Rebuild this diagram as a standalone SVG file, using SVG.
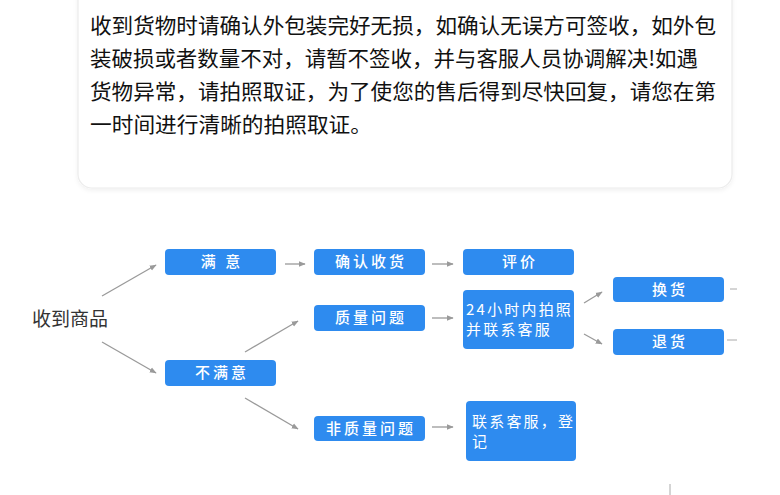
<svg xmlns="http://www.w3.org/2000/svg" width="780" height="495" viewBox="0 0 780 495">
<defs>
<style>
.card{fill:#fff;stroke:#ececec;stroke-width:1.2}
.para{font-family:"Noto Sans CJK SC","Noto Sans",sans-serif;font-size:21px;fill:#111}
.box{fill:#2e8bef}
.lbl{font-family:"Noto Sans CJK SC","Noto Sans",sans-serif;font-size:15px;fill:#fff;text-anchor:middle;letter-spacing:3px;font-weight:500}
.lbl2{font-family:"Noto Sans CJK SC","Noto Sans",sans-serif;font-size:15px;fill:#fff;letter-spacing:2.2px}
.root{font-family:"Noto Sans CJK SC","Noto Sans",sans-serif;font-size:19px;fill:#333}
.con{stroke:#9a9a9a;stroke-width:1.3;fill:none;marker-end:url(#ah)}
.stub{stroke:#aaa;stroke-width:1;fill:none}
</style>
<marker id="ah" viewBox="0 0 10 10" refX="9" refY="5" markerWidth="7" markerHeight="7" orient="auto" markerUnits="userSpaceOnUse">
<path d="M0,1 L10,5 L0,9 z" fill="#9a9a9a"/>
</marker>
<filter id="sh" x="-5%" y="-5%" width="110%" height="115%">
<feDropShadow dx="0" dy="2" stdDeviation="2" flood-color="#000" flood-opacity="0.06"/>
</filter>
</defs>
<rect width="780" height="495" fill="#fff"/>
<g id="notice">
<rect class="card" x="78" y="-20" width="654" height="208" rx="14" filter="url(#sh)"/>
<text class="para" x="90" y="33" textLength="626" lengthAdjust="spacingAndGlyphs">收到货物时请确认外包装完好无损，如确认无误方可签收，如外包</text>
<text class="para" x="90" y="66" textLength="608" lengthAdjust="spacingAndGlyphs">装破损或者数量不对，请暂不签收，并与客服人员协调解决!如遇</text>
<text class="para" x="90" y="99" textLength="626" lengthAdjust="spacingAndGlyphs">货物异常，请拍照取证，为了使您的售后得到尽快回复，请您在第</text>
<text class="para" x="90" y="132" textLength="282" lengthAdjust="spacingAndGlyphs">一时间进行清晰的拍照取证。</text>
</g>
<g id="connectors">
<line class="con" x1="102" y1="296" x2="156" y2="265"/>
<line class="con" x1="102" y1="342" x2="156" y2="373"/>
<line class="con" x1="285" y1="264" x2="305" y2="264"/>
<line class="con" x1="245" y1="352" x2="298" y2="321"/>
<line class="con" x1="245" y1="398" x2="298" y2="429"/>
<line class="con" x1="432" y1="264" x2="453" y2="264"/>
<line class="con" x1="432" y1="318" x2="453" y2="318"/>
<line class="con" x1="432" y1="427" x2="453" y2="427"/>
<line class="con" x1="584" y1="303" x2="602" y2="292"/>
<line class="con" x1="584" y1="334" x2="602" y2="344"/>
<line class="stub" x1="730" y1="289" x2="737" y2="289"/>
<line class="stub" x1="727" y1="340" x2="737" y2="340"/>
<line class="stub" x1="670" y1="484" x2="670" y2="495"/>
</g>
<g id="n-root"><text class="root" x="32" y="326">收到商品</text></g>
<g id="n-manyi"><rect class="box" x="165" y="249" width="111" height="26" rx="4"/><text class="lbl" x="222" y="267">满 意</text></g>
<g id="n-bumanyi"><rect class="box" x="165" y="360" width="111" height="26" rx="4"/><text class="lbl" x="222" y="378">不满意</text></g>
<g id="n-queren"><rect class="box" x="314" y="249" width="111" height="26" rx="4"/><text class="lbl" x="371" y="267">确认收货</text></g>
<g id="n-zhiliang"><rect class="box" x="314" y="305" width="111" height="26" rx="4"/><text class="lbl" x="371" y="323">质量问题</text></g>
<g id="n-feizhiliang"><rect class="box" x="314" y="416" width="111" height="25" rx="4"/><text class="lbl" x="371" y="434">非质量问题</text></g>
<g id="n-pingjia"><rect class="box" x="463" y="249" width="111" height="26" rx="4"/><text class="lbl" x="520" y="267">评价</text></g>
<g id="n-24h"><rect class="box" x="463" y="290" width="111" height="59" rx="4"/><text class="lbl2" x="466" y="315">24小时内拍照</text><text class="lbl2" x="466" y="335">并联系客服</text></g>
<g id="n-lianxi"><rect class="box" x="466" y="401" width="110" height="60" rx="4"/><text class="lbl2" x="472" y="427">联系客服，登</text><text class="lbl2" x="472" y="447">记</text></g>
<g id="n-huanhuo"><rect class="box" x="613" y="277" width="111" height="25" rx="4"/><text class="lbl" x="670" y="295">换货</text></g>
<g id="n-tuihuo"><rect class="box" x="613" y="329" width="111" height="26" rx="4"/><text class="lbl" x="670" y="347">退货</text></g>
</svg>
